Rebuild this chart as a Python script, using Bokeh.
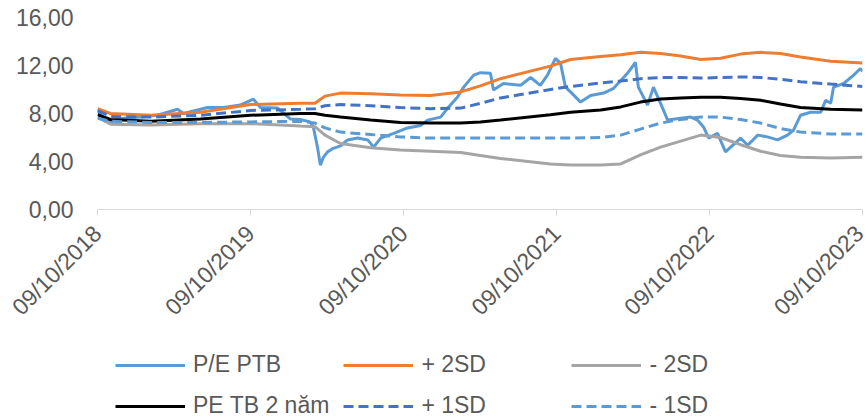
import pandas as pd
from math import pi
from bokeh.plotting import figure
from bokeh.layouts import column
from bokeh.models import FixedTicker, CustomJSTickFormatter, Legend, LegendItem, Range1d
from bokeh.embed import file_html
from bokeh.resources import INLINE

# ---------------- data ----------------
pe_dates = ["2018-10-09", "2018-10-23", "2018-11-09", "2018-12-10", "2019-01-20", "2019-03-01",
            "2019-04-18", "2019-05-02", "2019-06-29", "2019-08-06", "2019-09-15", "2019-10-16",
            "2019-11-02", "2019-12-13", "2020-01-12", "2020-02-05", "2020-02-28", "2020-03-07",
            "2020-03-17", "2020-03-24", "2020-03-31", "2020-04-10", "2020-04-24", "2020-05-11",
            "2020-05-28", "2020-06-21", "2020-07-15", "2020-07-29", "2020-08-15", "2020-09-15",
            "2020-10-18", "2020-11-18", "2020-12-05", "2021-01-05", "2021-01-22", "2021-02-14",
            "2021-03-01", "2021-03-25", "2021-04-10", "2021-05-04", "2021-05-11", "2021-06-04",
            "2021-07-15", "2021-08-08", "2021-08-31", "2021-09-17", "2021-10-06", "2021-10-18",
            "2021-10-30", "2021-11-11", "2021-12-05", "2021-12-29", "2022-01-29", "2022-02-22",
            "2022-03-27", "2022-04-15", "2022-04-22", "2022-05-14", "2022-05-28", "2022-06-14",
            "2022-07-01", "2022-08-01", "2022-08-25", "2022-09-10", "2022-09-25", "2022-10-07",
            "2022-10-28", "2022-11-16", "2022-12-03", "2022-12-22", "2023-01-08", "2023-02-01",
            "2023-02-24", "2023-03-20", "2023-04-13", "2023-04-27", "2023-05-14", "2023-06-07",
            "2023-07-01", "2023-07-13", "2023-07-25", "2023-08-01", "2023-08-25", "2023-09-18",
            "2023-10-04", "2023-10-09"]
pe_ptb = [8.25, 7.6, 7.3, 7.6, 7.7, 7.85,
          8.35, 8.0, 8.5, 8.5, 8.7, 9.2,
          8.5, 8.45, 7.55, 7.5, 7.3, 6.9,
          5.2, 3.7, 4.35, 4.8, 5.1, 5.3,
          5.8, 5.95, 5.8, 5.2, 5.95, 6.35,
          6.8, 7.0, 7.45, 7.7, 8.45, 9.35,
          10.2, 11.2, 11.4, 11.35, 9.95, 10.5,
          10.35, 11.0, 10.35, 11.2, 12.6, 12.2,
          10.2, 9.8, 8.95, 9.5, 9.7, 10.1,
          11.35, 12.25, 10.2, 8.7, 10.2, 8.85,
          7.45, 7.6, 7.7, 7.45, 6.85, 5.95,
          6.35, 4.8, 5.35, 5.95, 5.35, 6.2,
          6.05, 5.8, 6.2, 6.6, 7.85, 8.1,
          8.1, 9.1, 8.85, 10.2, 10.5, 11.2,
          11.75, 11.5]

band_dates = ["2018-10-09", "2018-11-09", "2019-02-13", "2019-06-12", "2019-10-09", "2020-02-05",
              "2020-03-11", "2020-04-04", "2020-05-11", "2020-07-22", "2020-10-01", "2020-12-12",
              "2021-02-22", "2021-04-10", "2021-05-28", "2021-09-24", "2021-11-11", "2022-01-22",
              "2022-03-11", "2022-04-27", "2022-06-14", "2022-08-01", "2022-09-18", "2022-11-04",
              "2022-12-22", "2023-02-08", "2023-03-27", "2023-05-14", "2023-07-25", "2023-10-09"]
plus_2sd = [8.4, 8.0, 7.85, 8.1, 8.75, 8.85, 8.85, 9.45, 9.7, 9.65, 9.55, 9.5, 9.8, 10.3, 10.9,
            11.95, 12.5, 12.75, 12.9, 13.1, 13.0, 12.8, 12.5, 12.6, 12.95, 13.1, 13.0, 12.7, 12.35, 12.2]
pe_tb_2y = [7.9, 7.5, 7.35, 7.55, 7.85, 8.0, 8.0, 7.85, 7.7, 7.45, 7.25, 7.2, 7.2, 7.3, 7.45,
            7.9, 8.1, 8.3, 8.55, 8.95, 9.2, 9.3, 9.35, 9.35, 9.25, 9.1, 8.8, 8.5, 8.35, 8.3]
minus_2sd = [7.7, 7.1, 7.05, 7.15, 7.15, 6.95, 6.9, 6.2, 5.5, 5.15, 4.95, 4.85, 4.75, 4.5, 4.25,
             3.8, 3.7, 3.7, 3.8, 4.55, 5.2, 5.7, 6.2, 6.0, 5.4, 4.85, 4.5, 4.35, 4.3, 4.35]
plus_1sd = [8.25, 7.75, 7.7, 7.85, 8.25, 8.35, 8.4, 8.65, 8.75, 8.65, 8.5, 8.4, 8.45, 8.85, 9.3,
            10.0, 10.25, 10.55, 10.7, 10.9, 11.0, 11.0, 10.95, 11.0, 11.05, 11.0, 10.85, 10.65, 10.45, 10.25]
minus_1sd = [7.6, 7.35, 7.25, 7.25, 7.3, 7.35, 7.2, 6.8, 6.45, 6.25, 6.05, 5.95, 5.95, 5.95, 5.95,
             5.95, 5.95, 6.0, 6.2, 6.7, 7.2, 7.5, 7.7, 7.7, 7.5, 7.2, 6.75, 6.45, 6.3, 6.3]

x_tick_dates = ["2018-10-09", "2019-10-09", "2020-10-09", "2021-10-09", "2022-10-09", "2023-10-09"]
y_ticks = [0, 4, 8, 12, 16]

labels = ["P/E PTB", "+ 2SD", "- 2SD", "PE TB 2 năm", "+ 1SD", "- 1SD"]

# ---------------- styles ----------------
FONT = "Liberation Sans"
TXT = "#595959"
styles = [dict(line_color="#5B9BD5", line_width=3),
          dict(line_color="#ED7D31", line_width=3),
          dict(line_color="#A5A5A5", line_width=3),
          dict(line_color="#000000", line_width=3),
          dict(line_color="#4472C4", line_width=3, line_dash="10 5"),
          dict(line_color="#5B9BD5", line_width=3, line_dash="10 5")]

pe_x = pd.to_datetime(pe_dates)
band_x = pd.to_datetime(band_dates)
start = pd.Timestamp(x_tick_dates[0])
end = pd.Timestamp(x_tick_dates[-1])
series = [(pe_x, pe_ptb), (band_x, plus_2sd), (band_x, minus_2sd),
          (band_x, pe_tb_2y), (band_x, plus_1sd), (band_x, minus_1sd)]

# ---------------- main chart ----------------
p = figure(width=868, height=340, x_axis_type="datetime",
           x_range=Range1d(start, end), y_range=Range1d(0, 16),
           output_backend="svg", toolbar_location=None,
           min_border_left=97, min_border_right=6, min_border_top=17, min_border_bottom=131)
p.outline_line_color = None
p.grid.visible = False

for (xs, ys), st in zip(series, styles):
    p.line(xs, ys, **st)

# y axis
p.yaxis.ticker = FixedTicker(ticks=y_ticks)
p.yaxis.formatter = CustomJSTickFormatter(code="return tick.toFixed(2).replace('.', ',');")
p.yaxis.axis_line_color = None
p.yaxis.major_tick_line_color = None
p.yaxis.minor_tick_line_color = None
p.yaxis.major_tick_out = 0
p.yaxis.major_tick_in = 0
p.yaxis.major_label_standoff = 24
p.yaxis.major_label_text_font = FONT
p.yaxis.major_label_text_font_size = "23px"
p.yaxis.major_label_text_color = TXT

# x axis
p.xaxis.ticker = FixedTicker(ticks=[pd.Timestamp(d).value / 1e6 for d in x_tick_dates])
p.xaxis.formatter = CustomJSTickFormatter(code="""
const d = new Date(tick);
const dd = String(d.getUTCDate()).padStart(2, '0');
const mm = String(d.getUTCMonth() + 1).padStart(2, '0');
return dd + '/' + mm + '/' + d.getUTCFullYear();
""")
p.xaxis.axis_line_color = "#D9D9D9"
p.xaxis.axis_line_width = 1
p.xaxis.major_tick_line_color = "#D9D9D9"
p.xaxis.major_tick_out = 6
p.xaxis.major_tick_in = 0
p.xaxis.minor_tick_line_color = None
p.xaxis.major_label_orientation = pi / 4
p.xaxis.major_label_standoff = 14
p.xaxis.major_label_text_font = FONT
p.xaxis.major_label_text_font_size = "23px"
p.xaxis.major_label_text_color = TXT

# ---------------- legend strip ----------------
# the strip's ranges lie far from the data, so its lines only feed the legend glyphs
lg = figure(width=868, height=79, x_range=Range1d(0, 1), y_range=Range1d(0, 1),
            output_backend="svg", toolbar_location=None,
            min_border_left=0, min_border_right=0, min_border_top=0, min_border_bottom=0)
lg.axis.visible = False
lg.grid.visible = False
lg.outline_line_color = None
items = []
for lab, (xs, ys), st in zip(labels, series, styles):
    r = lg.line(xs, ys, **st)
    items.append(LegendItem(label=lab, renderers=[r]))

legend = Legend(items=items, orientation="horizontal", ncols=3,
                location=(18, 0), padding=0, margin=0, spacing=14,
                glyph_width=70, glyph_height=22, label_height=22, label_width=136,
                label_standoff=8, border_line_color=None, background_fill_alpha=0,
                label_text_font=FONT, label_text_font_size="23px", label_text_color=TXT)
lg.add_layout(legend, "center")

layout = column(p, lg, spacing=0)
open("out.html", "w").write(file_html(layout, INLINE))
